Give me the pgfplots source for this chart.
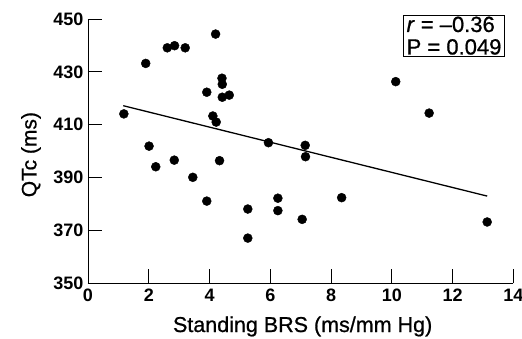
\documentclass[border=0pt]{standalone}
\usepackage{fontspec}
\setmainfont{Liberation Sans}
\newfontfamily\labelfont{Liberation Sans}[FakeBold=0.8]
\usepackage{pgfplots}
\pgfplotsset{compat=1.18}
\begin{document}
\begin{tikzpicture}
\path[use as bounding box] (-88pt,-54.7pt) rectangle (434pt,283.3pt);
\begin{axis}[
  at={(0,0)}, anchor=south west,
  width=425.3pt, height=264.3pt, scale only axis,
  xmin=0, xmax=14, ymin=350, ymax=450,
  axis lines=left,
  axis line style={-, line width=0.9pt},
  xtick={0,2,...,14}, ytick={350,370,...,450},
  tick align=inside,
  major tick length=14pt,
  tick style={line width=0.9pt, black},
  /pgf/number format/assume math mode=true,
  tick label style={font=\fontsize{18}{18}\selectfont\bfseries},
  xticklabel style={yshift=-2pt},
  yticklabel style={xshift=-1pt},
  xlabel={Standing BRS (ms/mm Hg)},
  ylabel={QTc (ms)},
  every axis x label/.style={at={(axis description cs:0.5,0)}, anchor=base, yshift=-48.7pt, xshift=2pt, font=\labelfont\fontsize{21.5}{21.5}\selectfont},
  every axis y label/.style={at={(axis description cs:0,0.5)}, rotate=90, anchor=center, yshift=57pt, xshift=-3.5pt, font=\labelfont\fontsize{21}{21}\selectfont},
  clip=false,
]
\addplot[only marks, mark=*, mark size=4.5pt, black] coordinates {
(1.90,433.2) (2.61,439.1) (2.85,439.9) (3.20,439.1) (4.20,444.3)
(4.41,427.6) (4.42,425.3) (3.91,422.3) (4.42,420.4) (4.65,421.2)
(1.18,414.1) (4.11,413.3) (4.22,411.0) (5.94,403.2) (7.15,402.2)
(7.16,397.9) (2.01,401.9) (2.84,396.6) (4.33,396.4) (2.23,394.1)
(3.45,390.1) (3.91,381.1) (5.26,378.1) (5.26,367.1) (6.25,382.2)
(6.25,377.5) (7.05,374.2) (10.13,426.3) (11.23,414.4) (8.35,382.4)
(13.14,373.2)
};
\addplot[black, line width=1.3pt] coordinates {(1.16,417.2) (13.14,383.0)};
\node[draw, line width=0.7pt, anchor=north east, align=left, inner xsep=3pt, inner ysep=1.5pt,
  font=\labelfont\fontsize{22}{22.5}\selectfont, fill=white]
  at (axis cs:13.72,451.6) {\textit{r} = –0.36\\P = 0.049};
\end{axis}
\end{tikzpicture}
\end{document}
